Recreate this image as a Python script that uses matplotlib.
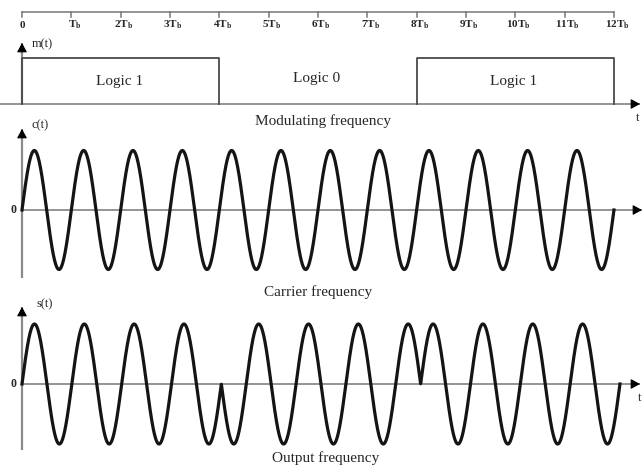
import numpy as np
import matplotlib
matplotlib.use("Agg")
import matplotlib.pyplot as plt

plt.rcParams["font.family"] = ["Liberation Serif", "DejaVu Serif"]
plt.rcParams["mathtext.fontset"] = "custom"
plt.rcParams["mathtext.rm"] = "Liberation Serif"
plt.rcParams["mathtext.bf"] = "Liberation Serif:bold"

# ---- data -------------------------------------------------------------
bit_values = [1, 0, 1]             # logic level of each data segment
bit_durations = [4, 4, 4]          # segment length in bit periods Tb
logic_labels = ["Logic 1", "Logic 0", "Logic 1"]
carrier_cycles_per_tb = 1          # carrier cycles in one bit period
tick_positions = list(range(13))   # 0 .. 12 Tb
tick_labels = ["0"] + [("" if k == 1 else str(k)) + r"T$_\mathbf{b}$" for k in range(1, 13)]
signal_names = ["m(t)", "c(t)", "s(t)"]
panel_captions = ["Modulating frequency", "Carrier frequency", "Output frequency"]

# ---- derived signals --------------------------------------------------
edges = np.concatenate([[0], np.cumsum(bit_durations)])
t = np.linspace(0, edges[-1], 6000)
seg = np.clip(np.searchsorted(edges, t, side="right") - 1, 0, len(bit_values) - 1)
m = np.array(bit_values)[seg]
c = np.sin(2 * np.pi * carrier_cycles_per_tb * t)
s = c * (2 * m - 1)                # BPSK: phase flips by 180 deg for logic 0

# ---- figure -----------------------------------------------------------
W, H = 643, 465
fig = plt.figure(figsize=(W / 100, H / 100), dpi=100)

AXIS_GREY = "#8a8a8a"
INK = "#141414"
TEXT = "#262626"


def panel(top, bottom, zero, unit, x0=22.0, px_per_tb=49.33):
    """Axes spanning the full width; x in Tb, y in signal units."""
    ax = fig.add_axes([0, 1 - bottom / H, 1, (bottom - top) / H])
    ax.set_xlim(-x0 / px_per_tb, (W - x0) / px_per_tb)
    ax.set_ylim(-(bottom - zero) / unit, (zero - top) / unit)
    ax.axis("off")
    ax.px_x = px_per_tb
    ax.px_y = unit
    return ax


def arrow_head(ax, tip, direction):
    """Small solid arrow head ending at `tip`."""
    dx, dy = direction
    start = (tip[0] - dx * 7 / ax.px_x, tip[1] - dy * 7 / ax.px_y)
    ax.annotate("", xy=tip, xytext=start,
                arrowprops=dict(arrowstyle="-|>,head_length=0.55,head_width=0.3",
                                color="black", lw=0.8, shrinkA=0, shrinkB=0,
                                mutation_scale=10))


def axes_cross(ax, y_bottom, y_top, x_left, x_right):
    ax.plot([0, 0], [y_bottom, y_top], color=AXIS_GREY, lw=1.6, solid_capstyle="butt", zorder=1)
    ax.plot([x_left, x_right], [0, 0], color="#777777", lw=1.1, solid_capstyle="butt", zorder=1)
    arrow_head(ax, (0, y_top), (0, 1))
    arrow_head(ax, (x_right, 0), (1, 0))


# time ruler across the top
ax_r = panel(0, 40, 12, 1.0)
ax_r.plot([tick_positions[0], tick_positions[-1]], [0, 0], color="#777777", lw=1.1)
for x, lab in zip(tick_positions, tick_labels):
    ax_r.plot([x, x], [0, -5], color="#777777", lw=1.1)
    ax_r.text(x + (0.06 if x else 0), -13, lab, ha="center", va="center",
              fontsize=8, fontweight="bold", color=TEXT)

# m(t): modulating data
ax_m = panel(30, 128, 104, 46.0)
axes_cross(ax_m, 0, (104 - 43) / 46.0, ax_m.get_xlim()[0], (640 - 22) / 49.33)
for (a, b), v in zip(zip(edges[:-1], edges[1:]), bit_values):
    if v:
        ax_m.plot([a, a, b, b], [0, v, v, 0], color="#4a4a4a", lw=1.3, zorder=2)
for (a, b), lab in zip(zip(edges[:-1], edges[1:]), logic_labels):
    yl = 0.48 if lab.endswith("1") else 0.56
    ax_m.text((a + b) / 2 - 0.03, yl, lab, ha="center", va="center",
              fontsize=11, color=TEXT)
ax_m.text(0.2, (104 - 44) / 46.0, signal_names[0], ha="left", va="center",
          fontsize=9, color=TEXT)
ax_m.text(12.44, -0.3, "t", ha="left", va="center", fontsize=9, color=TEXT)
ax_m.text(6.1, -(121 - 104) / 46.0, panel_captions[0], ha="center", va="center",
          fontsize=11, color=TEXT)

# c(t): carrier
ax_c = panel(118, 300, 210, 59.5)
axes_cross(ax_c, -(278 - 210) / 59.5, (210 - 129) / 59.5, 0, (642 - 22) / 49.33)
ax_c.plot(t, c, color=INK, lw=2.3, zorder=3)
ax_c.text(-0.18, 0, "0", ha="center", va="center", fontsize=8.5,
          fontweight="bold", color=TEXT)
ax_c.text(0.2, (210 - 125) / 59.5, signal_names[1], ha="left", va="center",
          fontsize=9, color=TEXT)
ax_c.text(6.0, -(292 - 210) / 59.5, panel_captions[1], ha="center", va="center",
          fontsize=11, color=TEXT)

# s(t): BPSK output
ax_s = panel(296, 465, 384, 60.0, px_per_tb=49.83)
axes_cross(ax_s, -(450 - 384) / 60.0, (384 - 307) / 60.0, 0, (640 - 22) / 49.83)
ax_s.plot(t, s, color=INK, lw=2.3, zorder=3)
ax_s.text(-0.18, 0, "0", ha="center", va="center", fontsize=8.5,
          fontweight="bold", color=TEXT)
ax_s.text(0.3, (384 - 304) / 60.0, signal_names[2], ha="left", va="center",
          fontsize=9, color=TEXT)
ax_s.text(12.36, -(398 - 384) / 60.0, "t", ha="left", va="center", fontsize=9, color=TEXT)
ax_s.text(6.1, -(458 - 384) / 60.0, panel_captions[2], ha="center", va="center",
          fontsize=11, color=TEXT)

fig.savefig("out.png", dpi=100)
